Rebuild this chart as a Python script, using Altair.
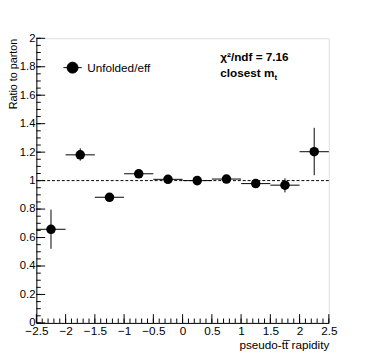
import altair as alt
import pandas as pd

# ---- data ----
bin_centers = [-2.25, -1.75, -1.25, -0.75, -0.25, 0.25, 0.75, 1.25, 1.75, 2.25]
bin_lo = [-2.5, -2.0, -1.5, -1.0, -0.5, 0.0, 0.5, 1.0, 1.5, 2.0]
bin_hi = [-2.0, -1.5, -1.0, -0.5, 0.0, 0.5, 1.0, 1.5, 2.0, 2.5]
ratio = [0.658, 1.181, 0.883, 1.048, 1.009, 1.000, 1.011, 0.979, 0.968, 1.203]
err_lo = [0.521, 1.140, 0.874, 1.039, 1.002, 0.993, 1.004, 0.972, 0.917, 1.038]
err_hi = [0.796, 1.227, 0.892, 1.057, 1.016, 1.007, 1.018, 0.986, 1.016, 1.371]

x_major = [-2.5, -2.0, -1.5, -1.0, -0.5, 0.0, 0.5, 1.0, 1.5, 2.0, 2.5]
y_major = [0.0, 0.2, 0.4, 0.6, 0.8, 1.0, 1.2, 1.4, 1.6, 1.8, 2.0]
x_minor = [round(-2.5 + 0.1 * i, 2) for i in range(51)]
y_minor = [round(0.05 * i, 2) for i in range(41)]

series_name = "Unfolded/eff"
chi_text = "\u03c7\u00b2/ndf = 7.16"
mt_text = "closest m"
mt_sub = "t"
x_title = "pseudo-tt\u0305 rapidity"
y_title = "Ratio to parton"

FONT = "Liberation Sans"
W, H = 299, 291

df = pd.DataFrame({
    "c": bin_centers, "lo": bin_lo, "hi": bin_hi,
    "r": ratio, "elo": err_lo, "ehi": err_hi,
    "series": [series_name] * len(bin_centers),
})

xs = alt.Scale(domain=[-2.5, 2.5], nice=False, zero=False)
ys = alt.Scale(domain=[0, 2], nice=False, zero=False)

minus_expr = "replace(toString(datum.value), '-', '\u2212')"

xaxis = alt.Axis(
    values=x_major, labelExpr=minus_expr, ticks=False, tickSize=0, grid=False,
    domainColor="black", domainWidth=1, labelFont=FONT, labelFontSize=12,
    labelColor="black", labelPadding=3, labelFlush=False, labelOverlap=False,
    title=x_title, titleFont=FONT, titleFontSize=12, titleFontWeight="normal",
    titleColor="black", titleAnchor="end", titleAlign="right",
    titleBaseline="middle", titleX=W, titleY=22,
)
yaxis = alt.Axis(
    values=y_major, labelExpr="toString(datum.value)", ticks=False, tickSize=0,
    grid=False, domainColor="black", domainWidth=1, labelFont=FONT,
    labelFontSize=11.5, labelColor="black", labelPadding=1.5, labelFlush=False,
    labelOverlap=False, labelBaseline="middle",
    title=y_title, titleFont=FONT, titleFontSize=11, titleFontWeight="normal",
    titleColor="black", titleAngle=-90, titleAlign="right", titleBaseline="top",
    titleX=-29, titleY=0,
)


def X(f):
    return alt.X(f, scale=xs, axis=xaxis)


def Y(f):
    return alt.Y(f, scale=ys, axis=yaxis)


base = alt.Chart(df)

hbar = base.mark_rule(color="black", strokeWidth=1).encode(
    x=X("lo:Q"), x2="hi:Q", y=Y("r:Q"))
vbar = base.mark_rule(color="black", strokeWidth=1).encode(
    x=X("c:Q"), y=Y("elo:Q"), y2="ehi:Q")

legend_path = ("M-1,0H1M-0.6,0A0.6,0.6 0 1,0 0.6,0A0.6,0.6 0 1,0 -0.6,0Z")
pts = base.mark_circle(size=95, opacity=1).encode(
    x=X("c:Q"),
    y=Y("r:Q"),
    color=alt.Color(
        "series:N",
        scale=alt.Scale(domain=[series_name], range=["black"]),
        legend=alt.Legend(
            orient="none", legendX=27, legendY=20, title=None, padding=0,
            symbolType=legend_path, symbolSize=350, symbolStrokeColor="black",
            symbolStrokeWidth=1, symbolFillColor="black",
            labelFont=FONT, labelFontSize=12, labelColor="black", labelOffset=5,
        ),
    ),
)

ref = alt.Chart(pd.DataFrame({"ref": [1.0]})).mark_rule(
    color="black", strokeWidth=1, strokeDash=[3, 2]
).encode(y=Y("ref:Q"))

xmaj = alt.Chart(pd.DataFrame({"v": x_major})).mark_rule(color="black").encode(
    x=X("v:Q"), y=alt.value(H), y2=alt.value(H - 9))
xmin = alt.Chart(pd.DataFrame({"v": x_minor})).mark_rule(color="black").encode(
    x=X("v:Q"), y=alt.value(H), y2=alt.value(H - 4.5))
ymaj = alt.Chart(pd.DataFrame({"v": y_major})).mark_rule(color="black").encode(
    y=Y("v:Q"), x=alt.value(0), x2=alt.value(9))
ymin = alt.Chart(pd.DataFrame({"v": y_minor})).mark_rule(color="black").encode(
    y=Y("v:Q"), x=alt.value(0), x2=alt.value(4.5))

chi = alt.Chart(pd.DataFrame({"t": [chi_text]})).mark_text(
    font=FONT, fontSize=12, fontWeight="bold", align="left", baseline="alphabetic",
    color="black").encode(text="t:N", x=alt.value(188), y=alt.value(23))
mt = alt.Chart(pd.DataFrame({"t": [mt_text]})).mark_text(
    font=FONT, fontSize=12, fontWeight="bold", align="left", baseline="alphabetic",
    color="black").encode(text="t:N", x=alt.value(188), y=alt.value(40))
mts = alt.Chart(pd.DataFrame({"t": [mt_sub]})).mark_text(
    font=FONT, fontSize=8, fontWeight="bold", align="left", baseline="alphabetic",
    color="black").encode(text="t:N", x=alt.value(243.5), y=alt.value(43))

chart = alt.layer(hbar, ymin, ymaj, xmin, xmaj, ref, vbar, pts, chi, mt, mts).properties(
    width=W, height=H,
    padding={"left": 29, "top": 27, "right": 38, "bottom": 37},
    autosize=alt.AutoSizeParams(type="none"),
).configure_view(stroke="#8a8a8a", strokeWidth=1.5).configure(background="white")

chart.save("out.html", embed_options={"renderer": "svg", "actions": False})
